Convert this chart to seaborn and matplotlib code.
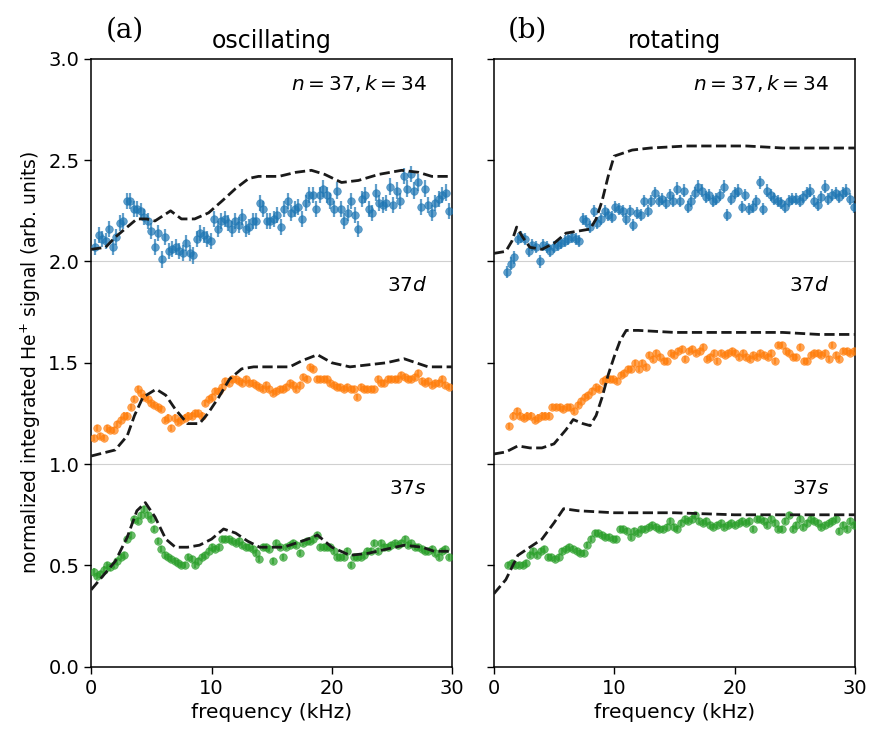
import numpy as np
import pandas as pd
import seaborn as sns
import matplotlib
matplotlib.use("Agg")
import matplotlib.pyplot as plt

sns.set_theme(style="ticks")
plt.rcParams["font.family"] = ["DejaVu Sans"]
plt.rcParams["mathtext.fontset"] = "dejavusans"
plt.rcParams["text.color"] = "black"
plt.rcParams["axes.labelcolor"] = "black"
plt.rcParams["xtick.color"] = "black"
plt.rcParams["ytick.color"] = "black"

# ---- measured data (read off the figure) ----
# oscillating field, panel (a)
osc_d_sig = [2.07, 2.13, 2.11, 2.10, 2.16, 2.07, 2.12, 2.19, 2.20, 2.30, 2.30, 2.26, 2.26, 2.25, 2.22,
             2.20, 2.15, 2.07, 2.14, 2.01, 2.12, 2.05, 2.06, 2.07, 2.05, 2.04, 2.09, 2.04, 2.03, 2.11,
             2.14, 2.13, 2.11, 2.10, 2.21, 2.16, 2.20, 2.21, 2.19, 2.16, 2.20, 2.18, 2.22, 2.16, 2.17,
             2.20, 2.20, 2.29, 2.26, 2.20, 2.20, 2.21, 2.23, 2.17, 2.26, 2.30, 2.24, 2.26, 2.27, 2.21,
             2.29, 2.33, 2.33, 2.26, 2.33, 2.36, 2.33, 2.30, 2.26, 2.35, 2.26, 2.20, 2.24, 2.30, 2.23,
             2.16, 2.31, 2.33, 2.26, 2.24, 2.34, 2.29, 2.28, 2.29, 2.37, 2.28, 2.35, 2.30, 2.42, 2.36,
             2.43, 2.35, 2.39, 2.27, 2.36, 2.28, 2.24, 2.29, 2.31, 2.33, 2.34, 2.25]
osc_p_sig = [1.13, 1.18, 1.14, 1.13, 1.18, 1.17, 1.17, 1.20, 1.22, 1.24, 1.24, 1.28, 1.32, 1.37, 1.35,
             1.33, 1.32, 1.30, 1.29, 1.28, 1.27, 1.22, 1.23, 1.18, 1.23, 1.21, 1.22, 1.23, 1.24, 1.24,
             1.25, 1.25, 1.24, 1.30, 1.32, 1.33, 1.36, 1.36, 1.38, 1.41, 1.40, 1.42, 1.42, 1.41, 1.40,
             1.42, 1.40, 1.40, 1.39, 1.38, 1.37, 1.39, 1.37, 1.35, 1.36, 1.37, 1.37, 1.38, 1.40, 1.39,
             1.37, 1.39, 1.43, 1.42, 1.48, 1.47, 1.42, 1.42, 1.42, 1.42, 1.40, 1.39, 1.38, 1.38, 1.37,
             1.38, 1.37, 1.37, 1.33, 1.38, 1.37, 1.37, 1.37, 1.37, 1.42, 1.40, 1.40, 1.42, 1.42, 1.42,
             1.42, 1.44, 1.43, 1.42, 1.42, 1.43, 1.45, 1.41, 1.40, 1.41, 1.39, 1.40, 1.40, 1.42, 1.39, 1.38]
osc_s_sig = [0.47, 0.45, 0.46, 0.48, 0.50, 0.49, 0.50, 0.52, 0.54, 0.55, 0.63, 0.65, 0.73, 0.72, 0.75,
             0.78, 0.75, 0.73, 0.68, 0.62, 0.58, 0.55, 0.54, 0.53, 0.52, 0.51, 0.50, 0.50, 0.54, 0.53,
             0.50, 0.52, 0.54, 0.55, 0.57, 0.59, 0.58, 0.59, 0.63, 0.63, 0.63, 0.62, 0.61, 0.62, 0.60,
             0.59, 0.59, 0.58, 0.56, 0.53, 0.59, 0.59, 0.58, 0.52, 0.61, 0.59, 0.54, 0.59, 0.60, 0.61,
             0.60, 0.56, 0.61, 0.62, 0.62, 0.63, 0.65, 0.59, 0.59, 0.59, 0.59, 0.57, 0.54, 0.54, 0.54,
             0.57, 0.50, 0.54, 0.54, 0.54, 0.55, 0.57, 0.57, 0.61, 0.57, 0.61, 0.59, 0.59, 0.60, 0.61,
             0.60, 0.61, 0.63, 0.60, 0.61, 0.59, 0.59, 0.58, 0.57, 0.57, 0.58, 0.56, 0.54, 0.57, 0.58, 0.54]

# rotating field, panel (b)
rot_d_sig = [1.95, 1.99, 2.02, 2.11, 2.12, 2.11, 2.05, 2.08, 2.07, 2.00, 2.08, 2.07, 2.05, 2.07, 2.08,
             2.09, 2.10, 2.11, 2.12, 2.11, 2.10, 2.21, 2.20, 2.17, 2.25, 2.19, 2.21, 2.25, 2.23, 2.22,
             2.27, 2.26, 2.25, 2.21, 2.25, 2.18, 2.24, 2.23, 2.30, 2.25, 2.30, 2.34, 2.30, 2.31, 2.29,
             2.33, 2.30, 2.36, 2.30, 2.35, 2.27, 2.30, 2.34, 2.37, 2.35, 2.32, 2.33, 2.30, 2.31, 2.33,
             2.37, 2.23, 2.31, 2.34, 2.35, 2.27, 2.33, 2.26, 2.27, 2.30, 2.39, 2.26, 2.35, 2.33, 2.31,
             2.30, 2.29, 2.27, 2.30, 2.31, 2.31, 2.30, 2.32, 2.34, 2.35, 2.30, 2.28, 2.32, 2.37, 2.31,
             2.33, 2.34, 2.32, 2.34, 2.35, 2.31, 2.27]
rot_p_sig = [1.19, 1.24, 1.26, 1.24, 1.23, 1.24, 1.24, 1.22, 1.23, 1.24, 1.24, 1.24, 1.28, 1.28, 1.28,
             1.27, 1.28, 1.28, 1.26, 1.29, 1.31, 1.33, 1.34, 1.36, 1.38, 1.37, 1.41, 1.42, 1.42, 1.42,
             1.41, 1.44, 1.45, 1.47, 1.47, 1.50, 1.47, 1.50, 1.48, 1.54, 1.52, 1.55, 1.53, 1.51, 1.51,
             1.55, 1.54, 1.56, 1.57, 1.52, 1.56, 1.57, 1.55, 1.56, 1.58, 1.52, 1.53, 1.55, 1.51, 1.55,
             1.54, 1.55, 1.56, 1.55, 1.53, 1.55, 1.53, 1.52, 1.54, 1.53, 1.55, 1.54, 1.53, 1.55, 1.51,
             1.59, 1.59, 1.56, 1.55, 1.53, 1.53, 1.58, 1.51, 1.51, 1.54, 1.55, 1.55, 1.54, 1.55, 1.52,
             1.59, 1.54, 1.52, 1.56, 1.56, 1.55, 1.56]
rot_s_sig = [0.50, 0.51, 0.50, 0.50, 0.50, 0.51, 0.55, 0.57, 0.55, 0.57, 0.58, 0.54, 0.54, 0.53, 0.54,
             0.57, 0.58, 0.59, 0.58, 0.57, 0.56, 0.56, 0.60, 0.63, 0.66, 0.66, 0.65, 0.64, 0.64, 0.63,
             0.63, 0.68, 0.68, 0.67, 0.64, 0.67, 0.66, 0.68, 0.68, 0.69, 0.70, 0.69, 0.68, 0.68, 0.69,
             0.72, 0.69, 0.68, 0.71, 0.73, 0.72, 0.73, 0.75, 0.72, 0.71, 0.72, 0.70, 0.69, 0.70, 0.71,
             0.69, 0.70, 0.71, 0.70, 0.71, 0.72, 0.71, 0.72, 0.68, 0.73, 0.73, 0.72, 0.70, 0.73, 0.71,
             0.68, 0.68, 0.72, 0.75, 0.68, 0.70, 0.73, 0.69, 0.71, 0.73, 0.72, 0.71, 0.69, 0.70, 0.71,
             0.72, 0.73, 0.67, 0.70, 0.68, 0.72, 0.70]

# frequency range covered by each measured series (kHz)
osc_range = {"d": (0.33, 29.75), "p": (0.2, 29.7), "s": (0.2, 29.7)}
rot_range = {"d": (1.1, 29.9), "p": (1.3, 29.9), "s": (1.2, 29.9)}

# typical error bar half-widths
osc_err = {"d": 0.04, "p": 0.015, "s": 0.015}
rot_err = {"d": 0.03, "p": 0.015, "s": 0.015}

# ---- calculated curves (dashed) ----
osc_d_fx = [0, 1.2, 2.0, 2.8, 3.8, 4.6, 5.3, 6.6, 7.5, 8.6, 9.75, 10.9, 12.0, 13.1, 13.9, 15.6, 17.0,
            18.3, 19.4, 20.8, 22.2, 23.9, 25.8, 27.2, 28.3, 30.0]
osc_d_fy = [2.06, 2.07, 2.12, 2.16, 2.21, 2.21, 2.20, 2.25, 2.21, 2.21, 2.24, 2.30, 2.36, 2.41, 2.42,
            2.42, 2.44, 2.45, 2.43, 2.39, 2.40, 2.43, 2.45, 2.44, 2.42, 2.42]
osc_p_fx = [0, 2.0, 3.0, 3.6, 4.3, 5.4, 6.2, 7.0, 8.0, 9.0, 9.7, 10.6, 11.5, 12.5, 13.5, 15.0, 16.5,
            17.5, 18.8, 20.0, 21.5, 23.0, 24.5, 26.0, 28.0, 30.0]
osc_p_fy = [1.04, 1.07, 1.14, 1.24, 1.33, 1.37, 1.34, 1.27, 1.20, 1.20, 1.25, 1.33, 1.42, 1.47, 1.48,
            1.48, 1.48, 1.51, 1.54, 1.50, 1.48, 1.49, 1.50, 1.52, 1.48, 1.48]
osc_s_fx = [0, 1.0, 2.0, 3.0, 3.8, 4.5, 5.3, 6.2, 7.0, 8.0, 9.0, 10.0, 11.0, 12.0, 13.0, 14.0, 15.0,
            16.0, 17.0, 18.0, 18.8, 20.0, 21.5, 23.0, 24.5, 26.0, 27.5, 28.5, 30.0]
osc_s_fy = [0.38, 0.45, 0.52, 0.64, 0.77, 0.81, 0.74, 0.63, 0.59, 0.59, 0.60, 0.63, 0.68, 0.66, 0.62,
            0.59, 0.59, 0.59, 0.61, 0.63, 0.65, 0.59, 0.55, 0.56, 0.58, 0.60, 0.59, 0.57, 0.57]

rot_d_fx = [0, 1.0, 1.5, 1.9, 2.4, 3.0, 4.0, 5.0, 6.0, 7.0, 8.0, 8.5, 9.0, 9.5, 10.0, 10.5, 11.5,
            13.0, 16.0, 18.0, 21.0, 24.0, 27.0, 30.0]
rot_d_fy = [2.04, 2.05, 2.10, 2.17, 2.12, 2.07, 2.06, 2.09, 2.14, 2.15, 2.16, 2.21, 2.30, 2.42, 2.52,
            2.53, 2.55, 2.56, 2.57, 2.57, 2.57, 2.56, 2.56, 2.56]
rot_p_fx = [0, 1.0, 2.0, 3.0, 4.0, 5.0, 6.0, 6.6, 7.4, 8.0, 8.5, 9.0, 9.5, 10.0, 10.5, 11.0, 12.0,
            15.0, 20.0, 24.0, 27.0, 30.0]
rot_p_fy = [1.05, 1.06, 1.09, 1.08, 1.08, 1.10, 1.17, 1.22, 1.20, 1.19, 1.24, 1.33, 1.44, 1.53, 1.61,
            1.66, 1.66, 1.65, 1.65, 1.65, 1.64, 1.64]
rot_s_fx = [0, 1.0, 2.0, 3.0, 4.0, 5.0, 5.8, 7.0, 10.0, 15.0, 20.0, 25.0, 30.0]
rot_s_fy = [0.36, 0.43, 0.55, 0.59, 0.63, 0.71, 0.78, 0.77, 0.76, 0.76, 0.75, 0.75, 0.75]

colors = {"d": "#1f77b4", "p": "#ff7f0e", "s": "#2ca02c"}

fig, axes = plt.subplots(1, 2, figsize=(8.85, 7.45), dpi=100, sharey=True)
fig.subplots_adjust(left=0.103, right=0.966, bottom=0.105, top=0.921, wspace=0.115)

panels = [
    (axes[0], {"d": osc_d_sig, "p": osc_p_sig, "s": osc_s_sig}, osc_range, osc_err,
     [(osc_d_fx, osc_d_fy), (osc_p_fx, osc_p_fy), (osc_s_fx, osc_s_fy)], "oscillating", "(a)"),
    (axes[1], {"d": rot_d_sig, "p": rot_p_sig, "s": rot_s_sig}, rot_range, rot_err,
     [(rot_d_fx, rot_d_fy), (rot_p_fx, rot_p_fy), (rot_s_fx, rot_s_fy)], "rotating", "(b)"),
]

for ax, sigs, rng, errs, fits, title, tag in panels:
    ax.axhline(1.0, color="#d0d0d0", lw=0.8, zorder=0)
    ax.axhline(2.0, color="#d0d0d0", lw=0.8, zorder=0)
    for key in ["d", "p", "s"]:
        vals = sigs[key]
        freq = np.linspace(rng[key][0], rng[key][1], len(vals))
        df = pd.DataFrame({"freq": freq, "sig": vals})
        ax.errorbar(df["freq"], df["sig"], yerr=errs[key], fmt="none",
                    ecolor=colors[key], elinewidth=1.6, alpha=0.7, zorder=2)
        sns.scatterplot(data=df, x="freq", y="sig", ax=ax, color=colors[key],
                        s=30, alpha=0.7, edgecolor=colors[key], linewidth=0.5, zorder=3)
    for fx, fy in fits:
        sns.lineplot(x=fx, y=fy, ax=ax, color="#1a1a1a", lw=2.0, linestyle="--",
                     sort=False, estimator=None, zorder=4)
    ax.set_xlim(0, 30)
    ax.set_ylim(0, 3.0)
    ax.set_xticks([0, 10, 20, 30])
    ax.set_yticks([0.0, 0.5, 1.0, 1.5, 2.0, 2.5, 3.0])
    ax.set_xlabel("frequency (kHz)", fontsize=14.5)
    ax.set_ylabel("")
    ax.set_title(title, fontsize=17, pad=8)
    ax.tick_params(labelsize=14, direction="out", length=5, width=1)
    for sp in ax.spines.values():
        sp.set_linewidth(1.1)
        sp.set_color("black")
    ax.text(0.04, 1.025, tag, transform=ax.transAxes, fontsize=20, family="DejaVu Serif",
            ha="left", va="bottom")
    ax.text(27.9, 2.88, r"$n = 37, k = 34$", fontsize=14.5, ha="right", va="center")
    ax.text(27.9, 1.88, r"$37d$", fontsize=14.5, ha="right", va="center")
    ax.text(27.9, 0.88, r"$37s$", fontsize=14.5, ha="right", va="center")

axes[0].set_ylabel(r"normalized integrated He$^{+}$ signal (arb. units)", fontsize=13.5)
axes[1].tick_params(labelleft=False)

fig.savefig("out.png", dpi=100)
